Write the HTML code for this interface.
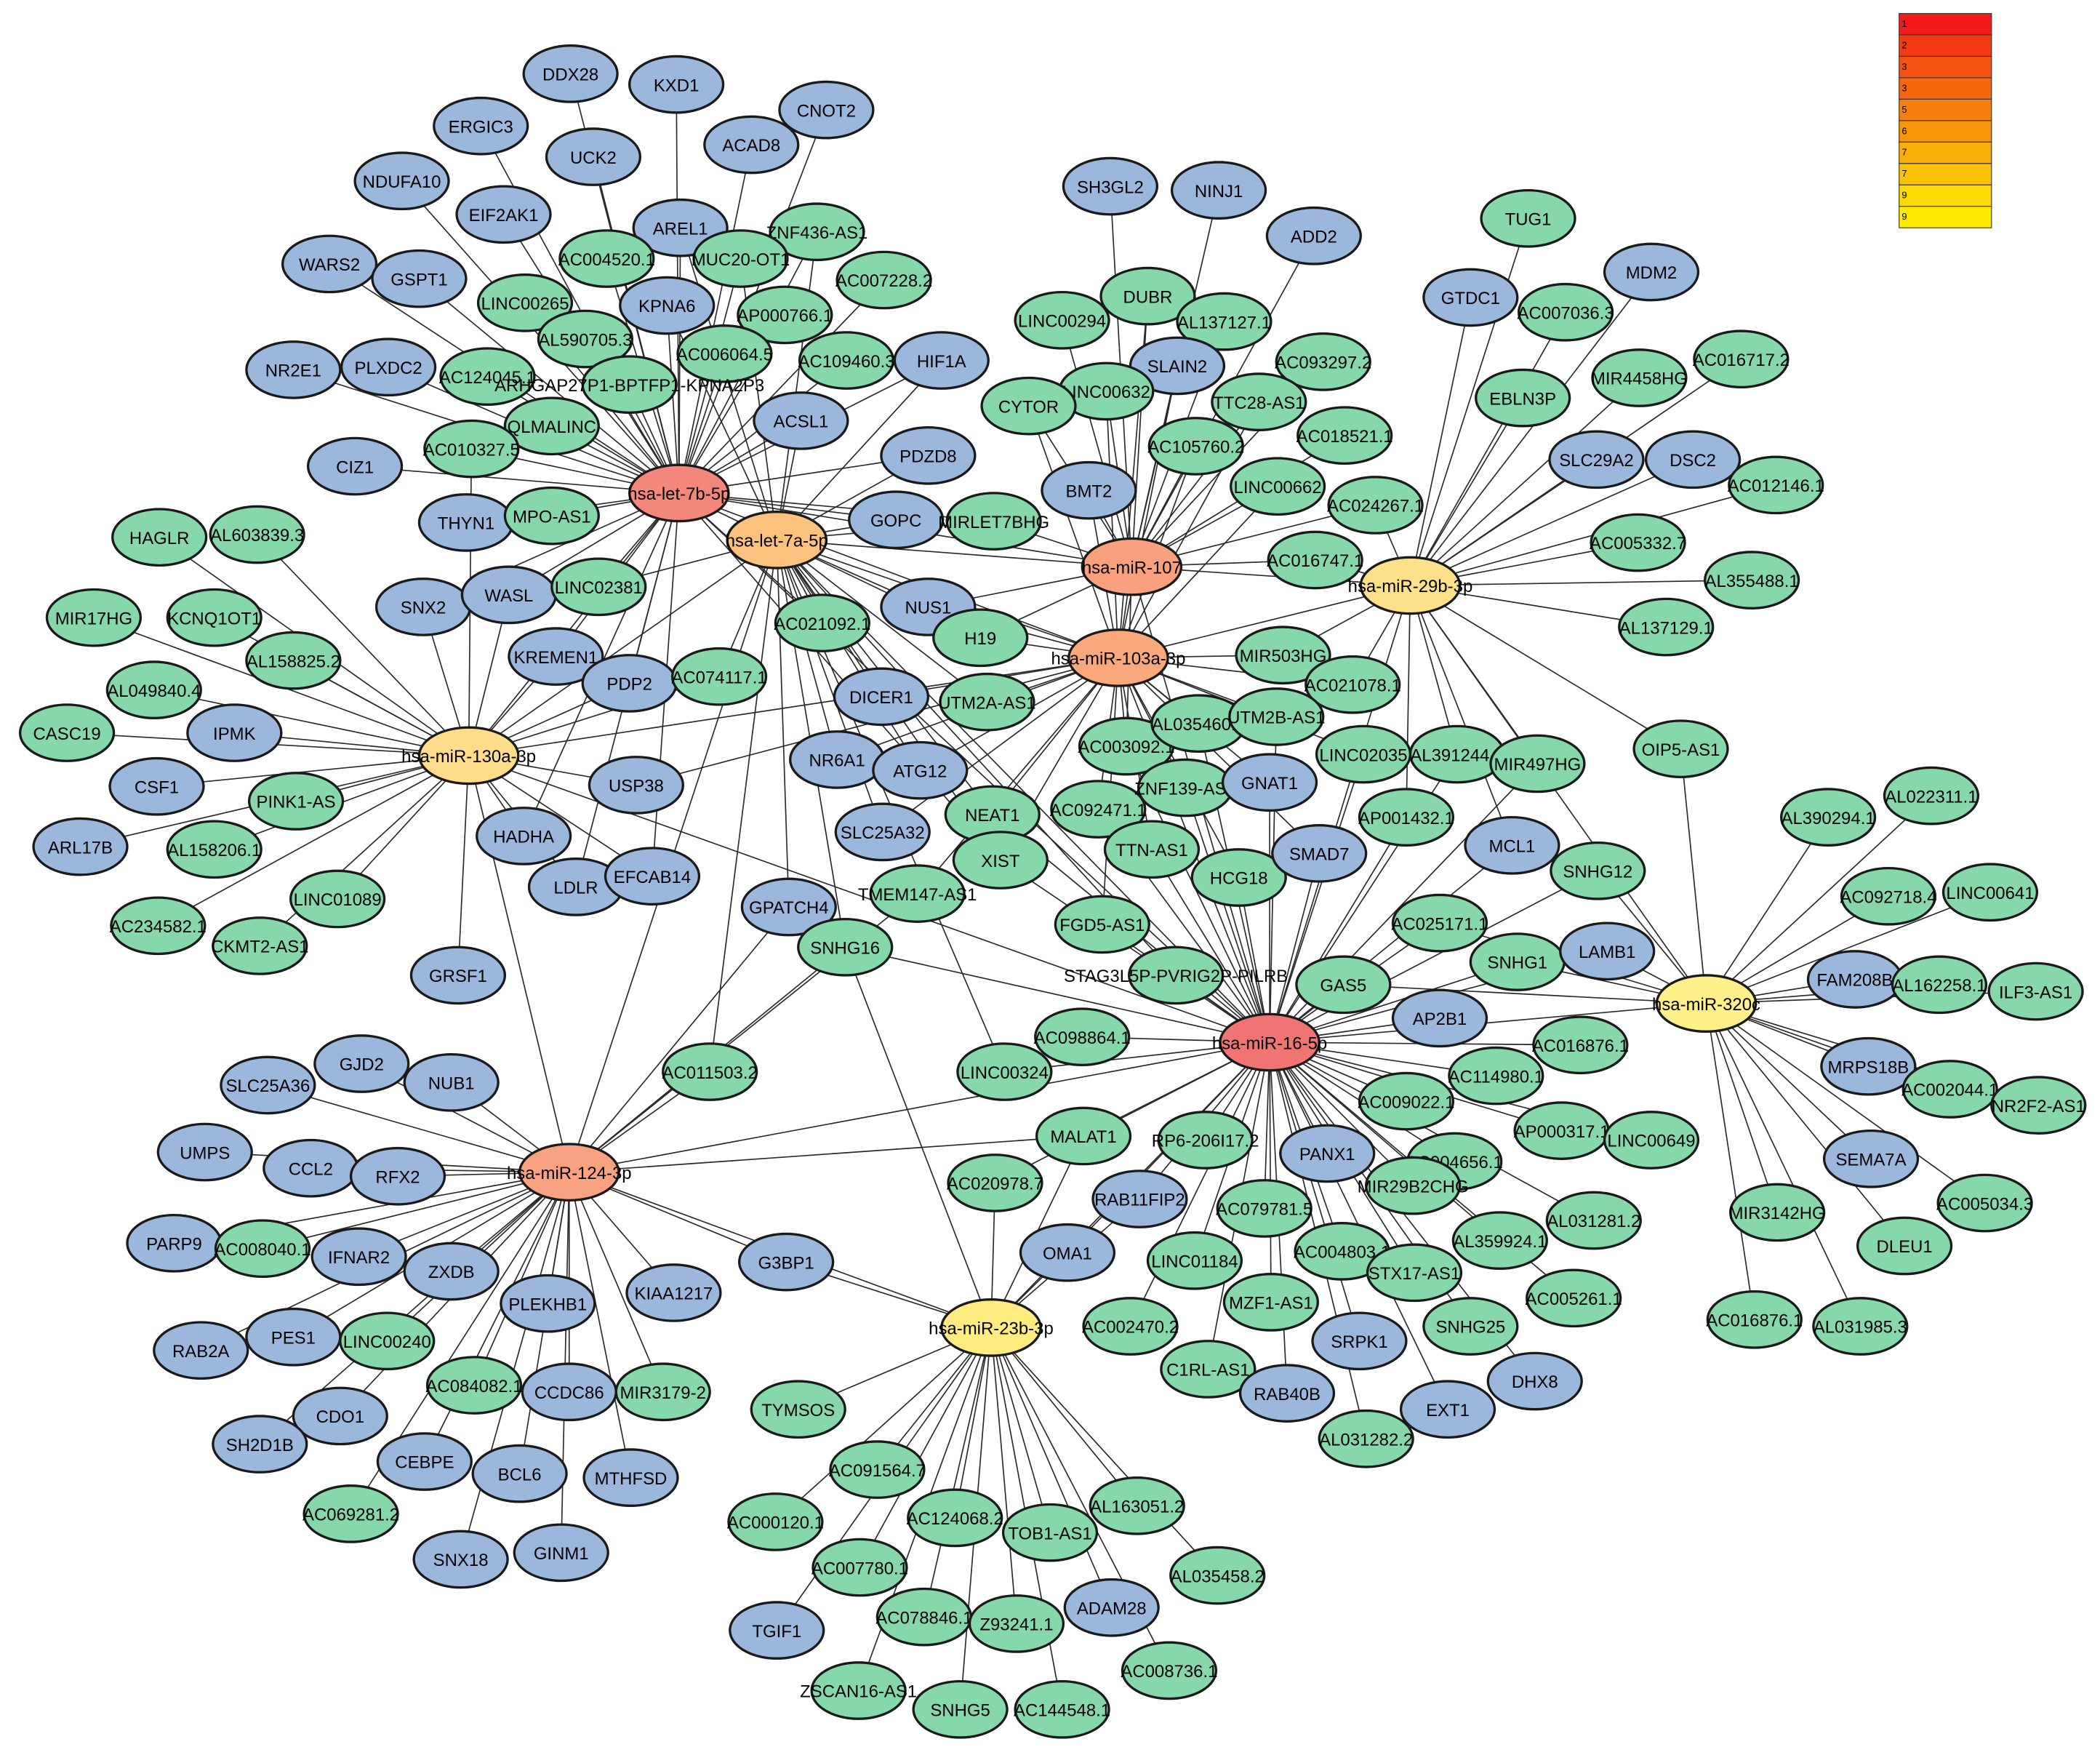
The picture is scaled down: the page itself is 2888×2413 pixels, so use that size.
<!DOCTYPE html>
<html><head><meta charset="utf-8"><style>
html,body{margin:0;padding:0;background:#fff}
svg{display:block}
text{font-family:"Liberation Sans",Arial,sans-serif;font-size:13px;text-anchor:middle;fill:#000}
ellipse{stroke:#1a1a1a;stroke-width:1.8}
.B ellipse{fill:#9BB7DB}
.G ellipse{fill:#86D7A9}
.H ellipse{rx:37px;ry:21px}
ellipse{rx:35px;ry:21px}
#edges line{stroke:#2a2a2a;stroke-width:0.9}
.lg text{font-size:7px;text-anchor:start}
</style></head><body>
<svg id="s" width="2888" height="2413" viewBox="0 0 1568 1310" xmlns="http://www.w3.org/2000/svg">
<g id="edges"></g>
<g id="nodes">
<g class="B a"><ellipse cx="426" cy="55"/><text x="426" y="60">DDX28</text></g>
<g class="B a"><ellipse cx="505" cy="63"/><text x="505" y="68">KXD1</text></g>
<g class="B a"><ellipse cx="359" cy="94"/><text x="359" y="99">ERGIC3</text></g>
<g class="B a"><ellipse cx="617" cy="82"/><text x="617" y="87">CNOT2</text></g>
<g class="B a"><ellipse cx="443" cy="117"/><text x="443" y="122">UCK2</text></g>
<g class="B a"><ellipse cx="561" cy="108"/><text x="561" y="113">ACAD8</text></g>
<g class="B a"><ellipse cx="300" cy="135"/><text x="300" y="140">NDUFA10</text></g>
<g class="B a"><ellipse cx="376" cy="160"/><text x="376" y="165">EIF2AK1</text></g>
<g class="B a b"><ellipse cx="508" cy="170"/><text x="508" y="175">AREL1</text></g>
<g class="G a b"><ellipse cx="610" cy="173"/><text x="610" y="178">ZNF436-AS1</text></g>
<g class="B a"><ellipse cx="246" cy="197"/><text x="246" y="202">WARS2</text></g>
<g class="B a"><ellipse cx="313" cy="208"/><text x="313" y="213">GSPT1</text></g>
<g class="G a"><ellipse cx="453" cy="193"/><text x="453" y="198">AC004520.1</text></g>
<g class="G a b"><ellipse cx="553" cy="193"/><text x="553" y="198">MUC20-OT1</text></g>
<g class="G a"><ellipse cx="660" cy="209"/><text x="660" y="214">AC007228.2</text></g>
<g class="G a"><ellipse cx="392" cy="226"/><text x="392" y="231">LINC00265</text></g>
<g class="B a b"><ellipse cx="498" cy="228"/><text x="498" y="233">KPNA6</text></g>
<g class="G a"><ellipse cx="586" cy="235"/><text x="586" y="240">AP000766.1</text></g>
<g class="B a"><ellipse cx="219" cy="276"/><text x="219" y="281">NR2E1</text></g>
<g class="B a"><ellipse cx="290" cy="274"/><text x="290" y="279">PLXDC2</text></g>
<g class="G a"><ellipse cx="437" cy="253"/><text x="437" y="258">AL590705.3</text></g>
<g class="G a"><ellipse cx="541" cy="264"/><text x="541" y="269">AC006064.5</text></g>
<g class="G a"><ellipse cx="632" cy="269"/><text x="632" y="274">AC109460.3</text></g>
<g class="B a b"><ellipse cx="703" cy="269"/><text x="703" y="274">HIF1A</text></g>
<g class="G a"><ellipse cx="364" cy="281"/><text x="364" y="286">AC124045.1</text></g>
<g class="G a"><ellipse cx="470" cy="287"/><text x="470" y="292">ARHGAP27P1-BPTFP1-KPNA2P3</text></g>
<g class="B a b"><ellipse cx="598" cy="314"/><text x="598" y="319">ACSL1</text></g>
<g class="G a"><ellipse cx="412" cy="318"/><text x="412" y="323">QLMALINC</text></g>
<g class="B a"><ellipse cx="265" cy="348"/><text x="265" y="353">CIZ1</text></g>
<g class="G a f"><ellipse cx="352" cy="335"/><text x="352" y="340">AC010327.5</text></g>
<g class="B a b"><ellipse cx="693" cy="340"/><text x="693" y="345">PDZD8</text></g>
<g class="B a"><ellipse cx="348" cy="390"/><text x="348" y="395">THYN1</text></g>
<g class="G a"><ellipse cx="412" cy="385"/><text x="412" y="390">MPO-AS1</text></g>
<g class="B a b"><ellipse cx="669" cy="388"/><text x="669" y="393">GOPC</text></g>
<g class="G a b c"><ellipse cx="742" cy="389"/><text x="742" y="394">MIRLET7BHG</text></g>
<g class="G f"><ellipse cx="119" cy="401"/><text x="119" y="406">HAGLR</text></g>
<g class="G f"><ellipse cx="192" cy="399"/><text x="192" y="404">AL603839.3</text></g>
<g class="B a f"><ellipse cx="316" cy="453"/><text x="316" y="458">SNX2</text></g>
<g class="B a f"><ellipse cx="380" cy="444"/><text x="380" y="449">WASL</text></g>
<g class="G a b"><ellipse cx="447" cy="438"/><text x="447" y="443">LINC02381</text></g>
<g class="G f"><ellipse cx="70" cy="461"/><text x="70" y="466">MIR17HG</text></g>
<g class="G f"><ellipse cx="160" cy="461"/><text x="160" y="466">KCNQ1OT1</text></g>
<g class="G f"><ellipse cx="219" cy="493"/><text x="219" y="498">AL158825.2</text></g>
<g class="G a b"><ellipse cx="614" cy="465"/><text x="614" y="470">AC021092.1</text></g>
<g class="B b c d"><ellipse cx="693" cy="453"/><text x="693" y="458">NUS1</text></g>
<g class="G b c d"><ellipse cx="732" cy="476"/><text x="732" y="481">H19</text></g>
<g class="B a f"><ellipse cx="415" cy="490"/><text x="415" y="495">KREMEN1</text></g>
<g class="B a f"><ellipse cx="470" cy="510"/><text x="470" y="515">PDP2</text></g>
<g class="G b f"><ellipse cx="537" cy="505"/><text x="537" y="510">AC074117.1</text></g>
<g class="G f"><ellipse cx="115" cy="515"/><text x="115" y="520">AL049840.4</text></g>
<g class="B b d"><ellipse cx="658" cy="520"/><text x="658" y="525">DICER1</text></g>
<g class="G b d"><ellipse cx="737" cy="524"/><text x="737" y="529">UTM2A-AS1</text></g>
<g class="G f"><ellipse cx="50" cy="547"/><text x="50" y="552">CASC19</text></g>
<g class="B f"><ellipse cx="175" cy="547"/><text x="175" y="552">IPMK</text></g>
<g class="B b d"><ellipse cx="625" cy="567"/><text x="625" y="572">NR6A1</text></g>
<g class="B b d"><ellipse cx="687" cy="575"/><text x="687" y="580">ATG12</text></g>
<g class="B f"><ellipse cx="117" cy="587"/><text x="117" y="592">CSF1</text></g>
<g class="G f"><ellipse cx="221" cy="598"/><text x="221" y="603">PINK1-AS</text></g>
<g class="B f d"><ellipse cx="475" cy="586"/><text x="475" y="591">USP38</text></g>
<g class="B f"><ellipse cx="60" cy="632"/><text x="60" y="637">ARL17B</text></g>
<g class="G f"><ellipse cx="160" cy="634"/><text x="160" y="639">AL158206.1</text></g>
<g class="B a f"><ellipse cx="391" cy="624"/><text x="391" y="629">HADHA</text></g>
<g class="B a f"><ellipse cx="430" cy="662"/><text x="430" y="667">LDLR</text></g>
<g class="B a f"><ellipse cx="487" cy="654"/><text x="487" y="659">EFCAB14</text></g>
<g class="B b d"><ellipse cx="659" cy="621"/><text x="659" y="626">SLC25A32</text></g>
<g class="G b d g"><ellipse cx="741" cy="608"/><text x="741" y="613">NEAT1</text></g>
<g class="G a b d g"><ellipse cx="747" cy="642"/><text x="747" y="647">XIST</text></g>
<g class="G d g"><ellipse cx="820" cy="604"/><text x="820" y="609">AC092471.1</text></g>
<g class="G c d g"><ellipse cx="841" cy="557"/><text x="841" y="562">AC003092.1</text></g>
<g class="G f"><ellipse cx="252" cy="671"/><text x="252" y="676">LINC01089</text></g>
<g class="G f"><ellipse cx="118" cy="691"/><text x="118" y="696">AC234582.1</text></g>
<g class="G f"><ellipse cx="194" cy="706"/><text x="194" y="711">CKMT2-AS1</text></g>
<g class="B f"><ellipse cx="342" cy="728"/><text x="342" y="733">GRSF1</text></g>
<g class="B b i"><ellipse cx="589" cy="677"/><text x="589" y="682">GPATCH4</text></g>
<g class="G d i"><ellipse cx="685" cy="667"/><text x="685" y="672">TMEM147-AS1</text></g>
<g class="G b i g j"><ellipse cx="631" cy="707"/><text x="631" y="712">SNHG16</text></g>
<g class="G d g"><ellipse cx="823" cy="690"/><text x="823" y="695">FGD5-AS1</text></g>
<g class="G g b"><ellipse cx="878" cy="728"/><text x="878" y="733">STAG3L5P-PVRIG2P-PILRB</text></g>
<g class="B c"><ellipse cx="829" cy="139"/><text x="829" y="144">SH3GL2</text></g>
<g class="B c"><ellipse cx="910" cy="142"/><text x="910" y="147">NINJ1</text></g>
<g class="B c"><ellipse cx="981" cy="176"/><text x="981" y="181">ADD2</text></g>
<g class="G e"><ellipse cx="1141" cy="163"/><text x="1141" y="168">TUG1</text></g>
<g class="G c d"><ellipse cx="857" cy="221"/><text x="857" y="226">DUBR</text></g>
<g class="G c"><ellipse cx="914" cy="240"/><text x="914" y="245">AL137127.1</text></g>
<g class="B e"><ellipse cx="1098" cy="222"/><text x="1098" y="227">GTDC1</text></g>
<g class="G e"><ellipse cx="1169" cy="233"/><text x="1169" y="238">AC007036.3</text></g>
<g class="B e"><ellipse cx="1233" cy="203"/><text x="1233" y="208">MDM2</text></g>
<g class="G c"><ellipse cx="793" cy="239"/><text x="793" y="244">LINC00294</text></g>
<g class="B c d"><ellipse cx="879" cy="273"/><text x="879" y="278">SLAIN2</text></g>
<g class="G c"><ellipse cx="988" cy="270"/><text x="988" y="275">AC093297.2</text></g>
<g class="G c d"><ellipse cx="826" cy="292"/><text x="826" y="297">LINC00632</text></g>
<g class="G c d"><ellipse cx="768" cy="303"/><text x="768" y="308">CYTOR</text></g>
<g class="G c d"><ellipse cx="940" cy="300"/><text x="940" y="305">TTC28-AS1</text></g>
<g class="G e"><ellipse cx="1224" cy="282"/><text x="1224" y="287">MIR4458HG</text></g>
<g class="G e"><ellipse cx="1300" cy="268"/><text x="1300" y="273">AC016717.2</text></g>
<g class="G e"><ellipse cx="1137" cy="297"/><text x="1137" y="302">EBLN3P</text></g>
<g class="G c"><ellipse cx="1004" cy="325"/><text x="1004" y="330">AC018521.1</text></g>
<g class="G c d"><ellipse cx="893" cy="333"/><text x="893" y="338">AC105760.2</text></g>
<g class="B e"><ellipse cx="1192" cy="343"/><text x="1192" y="348">SLC29A2</text></g>
<g class="B e"><ellipse cx="1264" cy="343"/><text x="1264" y="348">DSC2</text></g>
<g class="G c d"><ellipse cx="954" cy="363"/><text x="954" y="368">LINC00662</text></g>
<g class="B c d"><ellipse cx="813" cy="366"/><text x="813" y="371">BMT2</text></g>
<g class="G e"><ellipse cx="1326" cy="362"/><text x="1326" y="367">AC012146.1</text></g>
<g class="G c e"><ellipse cx="1027" cy="377"/><text x="1027" y="382">AC024267.1</text></g>
<g class="G c e"><ellipse cx="982" cy="418"/><text x="982" y="423">AC016747.1</text></g>
<g class="G e"><ellipse cx="1223" cy="405"/><text x="1223" y="410">AC005332.7</text></g>
<g class="G e"><ellipse cx="1308" cy="433"/><text x="1308" y="438">AL355488.1</text></g>
<g class="G e"><ellipse cx="1244" cy="468"/><text x="1244" y="473">AL137129.1</text></g>
<g class="G d e"><ellipse cx="958" cy="489"/><text x="958" y="494">MIR503HG</text></g>
<g class="G d e"><ellipse cx="1010" cy="511"/><text x="1010" y="516">AC021078.1</text></g>
<g class="G d g"><ellipse cx="895" cy="540"/><text x="895" y="545">AL035460.1</text></g>
<g class="G d g"><ellipse cx="953" cy="535"/><text x="953" y="540">UTM2B-AS1</text></g>
<g class="G d g"><ellipse cx="1018" cy="563"/><text x="1018" y="568">LINC02035</text></g>
<g class="G e g"><ellipse cx="1088" cy="563"/><text x="1088" y="568">AL391244.1</text></g>
<g class="G e g"><ellipse cx="1148" cy="570"/><text x="1148" y="575">MIR497HG</text></g>
<g class="G e h"><ellipse cx="1255" cy="559"/><text x="1255" y="564">OIP5-AS1</text></g>
<g class="G d g"><ellipse cx="885" cy="588"/><text x="885" y="593">ZNF139-AS1</text></g>
<g class="B d g"><ellipse cx="948" cy="584"/><text x="948" y="589">GNAT1</text></g>
<g class="G d g"><ellipse cx="860" cy="634"/><text x="860" y="639">TTN-AS1</text></g>
<g class="G d g"><ellipse cx="925" cy="655"/><text x="925" y="660">HCG18</text></g>
<g class="B d g"><ellipse cx="985" cy="637"/><text x="985" y="642">SMAD7</text></g>
<g class="G e g"><ellipse cx="1050" cy="610"/><text x="1050" y="615">AP001432.1</text></g>
<g class="B e g"><ellipse cx="1129" cy="631"/><text x="1129" y="636">MCL1</text></g>
<g class="G g h"><ellipse cx="1193" cy="650"/><text x="1193" y="655">SNHG12</text></g>
<g class="G g h"><ellipse cx="1075" cy="689"/><text x="1075" y="694">AC025171.1</text></g>
<g class="G g h"><ellipse cx="1133" cy="718"/><text x="1133" y="723">SNHG1</text></g>
<g class="B g h"><ellipse cx="1200" cy="710"/><text x="1200" y="715">LAMB1</text></g>
<g class="G g h"><ellipse cx="1003" cy="735"/><text x="1003" y="740">GAS5</text></g>
<g class="B g"><ellipse cx="1075" cy="760"/><text x="1075" y="765">AP2B1</text></g>
<g class="G h"><ellipse cx="1365" cy="610"/><text x="1365" y="615">AL390294.1</text></g>
<g class="G h"><ellipse cx="1442" cy="594"/><text x="1442" y="599">AL022311.1</text></g>
<g class="G h"><ellipse cx="1410" cy="669"/><text x="1410" y="674">AC092718.4</text></g>
<g class="G h"><ellipse cx="1486" cy="666"/><text x="1486" y="671">LINC00641</text></g>
<g class="B h"><ellipse cx="1385" cy="731"/><text x="1385" y="736">FAM208B</text></g>
<g class="G h"><ellipse cx="1448" cy="735"/><text x="1448" y="740">AL162258.1</text></g>
<g class="G h"><ellipse cx="1520" cy="740"/><text x="1520" y="745">ILF3-AS1</text></g>
<g class="B h"><ellipse cx="1395" cy="796"/><text x="1395" y="801">MRPS18B</text></g>
<g class="G h"><ellipse cx="1456" cy="813"/><text x="1456" y="818">AC002044.1</text></g>
<g class="G h"><ellipse cx="1522" cy="825"/><text x="1522" y="830">NR2F2-AS1</text></g>
<g class="B h"><ellipse cx="1397" cy="865"/><text x="1397" y="870">SEMA7A</text></g>
<g class="G h"><ellipse cx="1482" cy="898"/><text x="1482" y="903">AC005034.3</text></g>
<g class="G h"><ellipse cx="1327" cy="905"/><text x="1327" y="910">MIR3142HG</text></g>
<g class="G h"><ellipse cx="1422" cy="930"/><text x="1422" y="935">DLEU1</text></g>
<g class="G h"><ellipse cx="1310" cy="985"/><text x="1310" y="990">AC016876.1</text></g>
<g class="G h"><ellipse cx="1389" cy="990"/><text x="1389" y="995">AL031985.3</text></g>
<g class="G g"><ellipse cx="808" cy="774"/><text x="808" y="779">AC098864.1</text></g>
<g class="G g b"><ellipse cx="750" cy="800"/><text x="750" y="805">LINC00324</text></g>
<g class="G g"><ellipse cx="1180" cy="780"/><text x="1180" y="785">AC016876.1</text></g>
<g class="G g"><ellipse cx="1117" cy="803"/><text x="1117" y="808">AC114980.1</text></g>
<g class="G g"><ellipse cx="1050" cy="822"/><text x="1050" y="827">AC009022.1</text></g>
<g class="G g"><ellipse cx="1166" cy="844"/><text x="1166" y="849">AP000317.1</text></g>
<g class="G g"><ellipse cx="1233" cy="851"/><text x="1233" y="856">LINC00649</text></g>
<g class="G g i j"><ellipse cx="809" cy="848"/><text x="809" y="853">MALAT1</text></g>
<g class="G g"><ellipse cx="900" cy="851"/><text x="900" y="856">RP6-206I17.2</text></g>
<g class="B g"><ellipse cx="991" cy="861"/><text x="991" y="866">PANX1</text></g>
<g class="G g"><ellipse cx="1086" cy="867"/><text x="1086" y="872">AC004656.1</text></g>
<g class="G g"><ellipse cx="1055" cy="885"/><text x="1055" y="890">MIR29B2CHG</text></g>
<g class="G g j"><ellipse cx="743" cy="883"/><text x="743" y="888">AC020978.7</text></g>
<g class="B g j"><ellipse cx="851" cy="895"/><text x="851" y="900">RAB11FIP2</text></g>
<g class="G g"><ellipse cx="944" cy="902"/><text x="944" y="907">AC079781.5</text></g>
<g class="G g"><ellipse cx="1190" cy="911"/><text x="1190" y="916">AL031281.2</text></g>
<g class="G g"><ellipse cx="1120" cy="926"/><text x="1120" y="931">AL359924.1</text></g>
<g class="B g j"><ellipse cx="797" cy="935"/><text x="797" y="940">OMA1</text></g>
<g class="G g"><ellipse cx="892" cy="941"/><text x="892" y="946">LINC01184</text></g>
<g class="G g"><ellipse cx="1002" cy="934"/><text x="1002" y="939">AC004803.1</text></g>
<g class="G g"><ellipse cx="1056" cy="950"/><text x="1056" y="955">STX17-AS1</text></g>
<g class="G g"><ellipse cx="1175" cy="969"/><text x="1175" y="974">AC005261.1</text></g>
<g class="G g"><ellipse cx="844" cy="990"/><text x="844" y="995">AC002470.2</text></g>
<g class="G g"><ellipse cx="949" cy="972"/><text x="949" y="977">MZF1-AS1</text></g>
<g class="G g"><ellipse cx="1098" cy="990"/><text x="1098" y="995">SNHG25</text></g>
<g class="G g"><ellipse cx="902" cy="1022"/><text x="902" y="1027">C1RL-AS1</text></g>
<g class="B g"><ellipse cx="1015" cy="1001"/><text x="1015" y="1006">SRPK1</text></g>
<g class="B g"><ellipse cx="961" cy="1040"/><text x="961" y="1045">RAB40B</text></g>
<g class="B g"><ellipse cx="1146" cy="1031"/><text x="1146" y="1036">DHX8</text></g>
<g class="B g"><ellipse cx="1081" cy="1052"/><text x="1081" y="1057">EXT1</text></g>
<g class="G g"><ellipse cx="1020" cy="1074"/><text x="1020" y="1079">AL031282.2</text></g>
<g class="B i"><ellipse cx="270" cy="794"/><text x="270" y="799">GJD2</text></g>
<g class="B i"><ellipse cx="337" cy="808"/><text x="337" y="813">NUB1</text></g>
<g class="B i"><ellipse cx="200" cy="810"/><text x="200" y="815">SLC25A36</text></g>
<g class="G i b"><ellipse cx="530" cy="800"/><text x="530" y="805">AC011503.2</text></g>
<g class="B i"><ellipse cx="153" cy="860"/><text x="153" y="865">UMPS</text></g>
<g class="B i"><ellipse cx="232" cy="872"/><text x="232" y="877">CCL2</text></g>
<g class="B i"><ellipse cx="297" cy="878"/><text x="297" y="883">RFX2</text></g>
<g class="B i"><ellipse cx="130" cy="928"/><text x="130" y="933">PARP9</text></g>
<g class="G i"><ellipse cx="196" cy="932"/><text x="196" y="937">AC008040.1</text></g>
<g class="B i"><ellipse cx="268" cy="938"/><text x="268" y="943">IFNAR2</text></g>
<g class="B i"><ellipse cx="337" cy="949"/><text x="337" y="954">ZXDB</text></g>
<g class="B i j"><ellipse cx="587" cy="942"/><text x="587" y="947">G3BP1</text></g>
<g class="B i"><ellipse cx="503" cy="965"/><text x="503" y="970">KIAA1217</text></g>
<g class="B i"><ellipse cx="409" cy="973"/><text x="409" y="978">PLEKHB1</text></g>
<g class="B i"><ellipse cx="150" cy="1008"/><text x="150" y="1013">RAB2A</text></g>
<g class="B i"><ellipse cx="219" cy="998"/><text x="219" y="1003">PES1</text></g>
<g class="G i"><ellipse cx="289" cy="1001"/><text x="289" y="1006">LINC00240</text></g>
<g class="G i"><ellipse cx="354" cy="1034"/><text x="354" y="1039">AC084082.1</text></g>
<g class="B i"><ellipse cx="425" cy="1039"/><text x="425" y="1044">CCDC86</text></g>
<g class="G i"><ellipse cx="495" cy="1039"/><text x="495" y="1044">MIR3179-2</text></g>
<g class="B i"><ellipse cx="254" cy="1057"/><text x="254" y="1062">CDO1</text></g>
<g class="B i"><ellipse cx="194" cy="1078"/><text x="194" y="1083">SH2D1B</text></g>
<g class="B i"><ellipse cx="317" cy="1091"/><text x="317" y="1096">CEBPE</text></g>
<g class="B i"><ellipse cx="388" cy="1100"/><text x="388" y="1105">BCL6</text></g>
<g class="B i"><ellipse cx="471" cy="1103"/><text x="471" y="1108">MTHFSD</text></g>
<g class="G i"><ellipse cx="262" cy="1130"/><text x="262" y="1135">AC069281.2</text></g>
<g class="B i"><ellipse cx="344" cy="1164"/><text x="344" y="1169">SNX18</text></g>
<g class="B i"><ellipse cx="419" cy="1159"/><text x="419" y="1164">GINM1</text></g>
<g class="G j"><ellipse cx="596" cy="1052"/><text x="596" y="1057">TYMSOS</text></g>
<g class="G j"><ellipse cx="655" cy="1097"/><text x="655" y="1102">AC091564.7</text></g>
<g class="G j"><ellipse cx="849" cy="1124"/><text x="849" y="1129">AL163051.2</text></g>
<g class="G j"><ellipse cx="579" cy="1136"/><text x="579" y="1141">AC000120.1</text></g>
<g class="G j"><ellipse cx="713" cy="1133"/><text x="713" y="1138">AC124068.2</text></g>
<g class="G j"><ellipse cx="784" cy="1144"/><text x="784" y="1149">TOB1-AS1</text></g>
<g class="G j"><ellipse cx="909" cy="1176"/><text x="909" y="1181">AL035458.2</text></g>
<g class="G j"><ellipse cx="642" cy="1170"/><text x="642" y="1175">AC007780.1</text></g>
<g class="B j"><ellipse cx="580" cy="1217"/><text x="580" y="1222">TGIF1</text></g>
<g class="G j"><ellipse cx="690" cy="1207"/><text x="690" y="1212">AC078846.1</text></g>
<g class="G j"><ellipse cx="759" cy="1212"/><text x="759" y="1217">Z93241.1</text></g>
<g class="B j"><ellipse cx="830" cy="1200"/><text x="830" y="1205">ADAM28</text></g>
<g class="G j"><ellipse cx="873" cy="1247"/><text x="873" y="1252">AC008736.1</text></g>
<g class="G j"><ellipse cx="641" cy="1262"/><text x="641" y="1267">ZSCAN16-AS1</text></g>
<g class="G j"><ellipse cx="717" cy="1276"/><text x="717" y="1281">SNHG5</text></g>
<g class="G j"><ellipse cx="793" cy="1276"/><text x="793" y="1281">AC144548.1</text></g>
</g>
<g id="hubs">
<g class="H"><ellipse cx="507" cy="368" style="fill:#F4877C"/><text x="507" y="373">hsa-let-7b-5p</text></g>
<g class="H"><ellipse cx="580" cy="403" style="fill:#FBC27E"/><text x="580" y="408">hsa-let-7a-5p</text></g>
<g class="H"><ellipse cx="845" cy="423" style="fill:#F9A07F"/><text x="845" y="428">hsa-miR-107</text></g>
<g class="H"><ellipse cx="835" cy="491" style="fill:#F9A87C"/><text x="835" y="496">hsa-miR-103a-3p</text></g>
<g class="H"><ellipse cx="1053" cy="437" style="fill:#FDE08A"/><text x="1053" y="442">hsa-miR-29b-3p</text></g>
<g class="H"><ellipse cx="350" cy="564" style="fill:#FDDC8A"/><text x="350" y="569">hsa-miR-130a-3p</text></g>
<g class="H"><ellipse cx="948" cy="778" style="fill:#F07474"/><text x="948" y="783">hsa-miR-16-5p</text></g>
<g class="H"><ellipse cx="1274" cy="749" style="fill:#FFF08A"/><text x="1274" y="754">hsa-miR-320c</text></g>
<g class="H"><ellipse cx="425" cy="875" style="fill:#F9A282"/><text x="425" y="880">hsa-miR-124-3p</text></g>
<g class="H"><ellipse cx="740" cy="991" style="fill:#FFEC80"/><text x="740" y="996">hsa-miR-23b-3p</text></g>
</g>
<g class="lg" stroke="#333" stroke-width="0.6">
<rect x="1418" y="10" width="69" height="16" fill="#F21A1A"/>
<rect x="1418" y="26" width="69" height="16" fill="#F43A12"/>
<rect x="1418" y="42" width="69" height="16" fill="#F55410"/>
<rect x="1418" y="58" width="69" height="16" fill="#F6680E"/>
<rect x="1418" y="74" width="69" height="16" fill="#F7800C"/>
<rect x="1418" y="90" width="69" height="16" fill="#F8960A"/>
<rect x="1418" y="106" width="69" height="16" fill="#FAAE08"/>
<rect x="1418" y="122" width="69" height="16" fill="#FBC206"/>
<rect x="1418" y="138" width="69" height="16" fill="#FDDA04"/>
<rect x="1418" y="154" width="69" height="16" fill="#FEEA02"/>
<g stroke="none"><text x="1420" y="20">1</text><text x="1420" y="36">2</text><text x="1420" y="52">3</text><text x="1420" y="68">3</text><text x="1420" y="84">5</text><text x="1420" y="100">6</text><text x="1420" y="116">7</text><text x="1420" y="132">7</text><text x="1420" y="148">9</text><text x="1420" y="164">9</text></g>
</g>
</svg>
<script>
var H={a:[507,368],b:[580,403],c:[845,423],d:[835,491],e:[1053,437],f:[350,564],g:[948,778],h:[1274,749],i:[425,875],j:[740,991]};
var E=document.getElementById('edges'),NS='http://www.w3.org/2000/svg';
function L(x1,y1,x2,y2){var l=document.createElementNS(NS,'line');l.setAttribute('x1',x1);l.setAttribute('y1',y1);l.setAttribute('x2',x2);l.setAttribute('y2',y2);E.appendChild(l);}
document.querySelectorAll('#nodes > g').forEach(function(g){var e=g.querySelector('ellipse');var x=+e.getAttribute('cx'),y=+e.getAttribute('cy');g.classList.forEach(function(c){if(H[c])L(x,y,H[c][0],H[c][1]);});});
[['a','b'],['b','d'],['a','d'],['c','d'],['c','e'],['d','e'],['d','g'],['c','g'],['e','g'],['g','h'],['a','f'],['b','f'],['f','d'],['i','g'],['i','b'],['j','g'],['i','j'],['b','g'],['f','g'],['e','h'],['a','g'],['a','c'],['b','c'],['f','i']].forEach(function(p){L(H[p[0]][0],H[p[0]][1],H[p[1]][0],H[p[1]][1]);});
</script>
</body></html>
